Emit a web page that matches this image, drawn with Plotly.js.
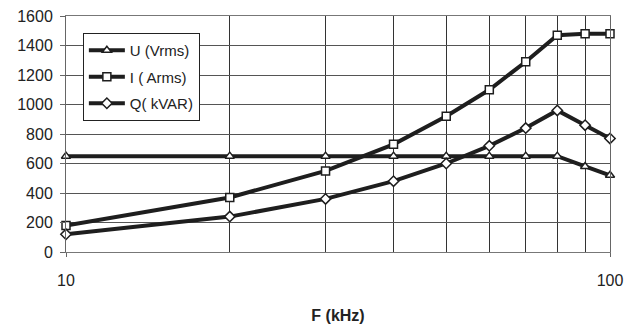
<!DOCTYPE html>
<html>
<head>
<meta charset="utf-8">
<script src="https://cdn.plot.ly/plotly-3.0.1.min.js"></script>
<style>html,body{margin:0;padding:0;background:#fff}#chart{width:636px;height:326px}</style>
</head>
<body>
<div id="chart"></div>
<script>
const freqKHz = [10, 20, 30, 40, 50, 60, 70, 80, 90, 100];
const uVrms = [650, 650, 650, 650, 650, 650, 650, 650, 580, 520];
const iArms = [180, 370, 550, 730, 920, 1100, 1290, 1470, 1480, 1480];
const qKVAR = [120, 240, 360, 480, 600, 720, 840, 960, 860, 770];
const seriesNames = ['U (Vrms)', 'I ( Arms)', 'Q( kVAR)'];
const xTickVals = [10, 100];
const xMinorVals = [20, 30, 40, 50, 60, 70, 80, 90];

const lineStyle = {color: '#1e1e1e', width: 4};
function mk(sym) {
  return {symbol: sym, size: 8, color: '#ffffff', line: {color: '#1e1e1e', width: 1.5}};
}
const traces = [
  {x: freqKHz, y: uVrms, name: seriesNames[0], legendgroup: 'a', mode: 'lines+markers', line: lineStyle, marker: mk('triangle-up'), cliponaxis: false},
  {x: freqKHz, y: iArms, name: seriesNames[1], legendgroup: 'b', mode: 'lines+markers', line: lineStyle, marker: mk('square'), cliponaxis: false},
  {x: freqKHz, y: qKVAR, name: seriesNames[2], legendgroup: 'c', mode: 'lines+markers', line: lineStyle, marker: mk('diamond'), cliponaxis: false}
];
const fam = 'Arial, "Liberation Sans", sans-serif';
const font = {family: fam, size: 16, color: '#222'};
const layout = {
  width: 636, height: 326,
  margin: {l: 66, r: 26, t: 16, b: 74},
  paper_bgcolor: '#fff', plot_bgcolor: '#fff',
  font: font,
  showlegend: true,
  legend: {x: 0.031, y: 0.928, xanchor: 'left', yanchor: 'top', bgcolor: '#fff',
           bordercolor: '#222', borderwidth: 1, font: {family: fam, size: 15, color: '#222'},
           tracegroupgap: 4, itemwidth: 36},
  xaxis: {
    type: 'log', range: [1, 2],
    tickvals: xTickVals, ticktext: ['10', '100'],
    ticks: 'outside', ticklen: 4, tickcolor: '#666',
    showgrid: true, gridcolor: '#333', gridwidth: 1,
    minor: {tickvals: xMinorVals, showgrid: true, gridcolor: '#333', gridwidth: 1, ticks: ''},
    showline: true, linecolor: '#777', mirror: true,
    ticklabelstandoff: 10,
    title: {text: '<b>F (kHz)</b>', font: font, standoff: 21},
    zeroline: false
  },
  yaxis: {
    range: [0, 1600], dtick: 200,
    ticks: 'outside', ticklen: 5, tickcolor: '#666',
    showgrid: true, gridcolor: '#555', gridwidth: 1,
    showline: true, linecolor: '#666', mirror: true,
    ticklabelstandoff: 4,
    zeroline: false
  }
};
Plotly.newPlot('chart', traces, layout, {staticPlot: true, displayModeBar: false});
</script>
</body>
</html>
